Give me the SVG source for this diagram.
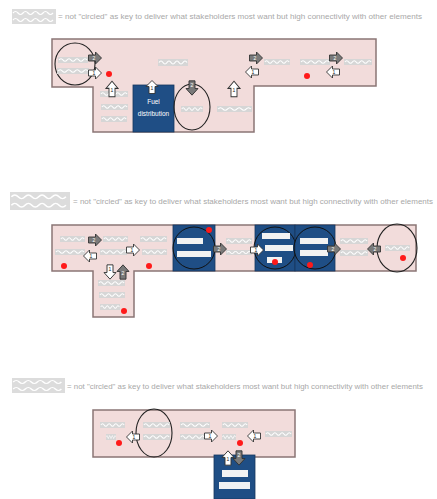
<svg xmlns="http://www.w3.org/2000/svg" xmlns:xlink="http://www.w3.org/1999/xlink" width="437" height="499" viewBox="0 0 437 499">
<style>
.leg{font-family:"Liberation Sans",Arial,sans-serif;font-size:7.2px;fill:#a8a8a8}
.zone{fill:#f2dcdb;stroke:#8a7575;stroke-width:1.5}
.blue{fill:#1f4e85;stroke:#17375e;stroke-width:0.8}
.ring{fill:none;stroke:#222;stroke-width:1.1}
.ringb{fill:none;stroke:#111;stroke-width:1}
.aw{fill:#fff;stroke:#333;stroke-width:0.9}
.ag{fill:#7a7a7a;stroke:#333;stroke-width:0.9}
.num{font-family:"Liberation Sans",Arial,sans-serif;font-size:5px;fill:#222;text-anchor:middle}
.numw{font-family:"Liberation Sans",Arial,sans-serif;font-size:5px;fill:#fff;text-anchor:middle}
.dot{fill:#ff1a1a}
.bar{fill:#f2f2f2}
.wt{font-family:"Liberation Sans",Arial,sans-serif;font-size:6.5px;fill:#fff;text-anchor:middle}
</style>
<defs>
<symbol id="sq" viewBox="0 0 30 7" preserveAspectRatio="none">
<rect x="0" y="0" width="30" height="7" fill="#d6d6d6"/>
<path d="M1,3.5 q2,-3 4,0 t4,0 t4,0 t4,0 t4,0 t4,0 t4,0" fill="none" stroke="#fff" stroke-width="1.2"/>
</symbol>
<symbol id="sw" viewBox="0 0 44 15" preserveAspectRatio="none">
<rect x="0" y="0" width="44" height="15" fill="#dcdcdc"/>
<path d="M1,4 q2.5,-3 5,0 t5,0 t5,0 t5,0 t5,0 t5,0 t5,0 t5,0 M1,11 q2.5,-3 5,0 t5,0 t5,0 t5,0 t5,0 t5,0 t5,0 t5,0" fill="none" stroke="#fff" stroke-width="1.2"/>
</symbol>
<path id="ra" d="M-6.5,-3 H0.5 V-6 L6.5,0 L0.5,6 V3 H-6.5 Z"/>
</defs>

<!-- ========== Panel 1 ========== -->
<g id="legend1">
<use xlink:href="#sw" x="12" y="9" width="44" height="15"/>
<text class="leg" x="58" y="19" textLength="364" lengthAdjust="spacingAndGlyphs">= not "circled" as key to deliver what stakeholders most want but high connectivity with other elements</text>
</g>
<g id="zone1">
<polygon class="zone" points="52,39 376,39 376,86 254,86 254,132 93,132 93,87 52,87"/>
<use xlink:href="#sq" x="158" y="59" width="30" height="7"/>
</g>
<g id="p1-circle-a">
<ellipse class="ring" cx="75" cy="64" rx="20" ry="21"/>
<use xlink:href="#sq" x="58" y="57" width="30" height="6"/>
<use xlink:href="#sq" x="57" y="68" width="32" height="6"/>
</g>
<g id="p1-node-b">
<use xlink:href="#sq" x="100" y="91" width="28" height="6"/>
<use xlink:href="#sq" x="101" y="104" width="27" height="6"/>
<use xlink:href="#sq" x="101" y="116" width="26" height="6"/>
<circle class="dot" cx="109" cy="74" r="3"/>
</g>
<g id="p1-fuel">
<rect class="blue" x="133" y="85" width="41" height="47"/>
<text class="wt" x="153.5" y="104">Fuel</text>
<text class="wt" x="153.5" y="116">distribution</text>
</g>
<g id="p1-circle-c">
<ellipse class="ring" cx="192" cy="107" rx="18" ry="23"/>
<use xlink:href="#sq" x="181" y="106" width="22" height="6"/>
</g>
<g id="p1-node-d">
<use xlink:href="#sq" x="217" y="106" width="35" height="6"/>
</g>
<g id="p1-node-e">
<use xlink:href="#sq" x="264" y="59" width="26" height="6"/>
</g>
<g id="p1-node-f">
<use xlink:href="#sq" x="300" y="59" width="30" height="6"/>
<circle class="dot" cx="307" cy="76" r="3"/>
</g>
<g id="p1-node-g">
<use xlink:href="#sq" x="344" y="59" width="28" height="6"/>
</g>
<g id="connectors1">
<use xlink:href="#ra" class="ag" transform="translate(95,58)"/><text class="numw" x="94" y="60">2</text>
<use xlink:href="#ra" class="aw" transform="translate(95,73)"/><text class="num" x="94" y="75">1</text>
<use xlink:href="#ra" class="aw" transform="translate(112,89) rotate(-90) scale(1.2,1)"/><text class="num" x="112" y="92">1</text>
<use xlink:href="#ra" class="aw" transform="translate(152,87) rotate(-90)"/><text class="num" x="152" y="90">1</text>
<use xlink:href="#ra" class="ag" transform="translate(192,88) rotate(90) scale(1.1,1)"/><text class="numw" x="192" y="87">2</text>
<use xlink:href="#ra" class="aw" transform="translate(234,89) rotate(-90) scale(1.2,1)"/><text class="num" x="234" y="92">1</text>
<use xlink:href="#ra" class="ag" transform="translate(256,58)"/><text class="numw" x="255" y="60">2</text>
<use xlink:href="#ra" class="aw" transform="translate(252,72) rotate(180)"/><text class="num" x="253" y="74">1</text>
<use xlink:href="#ra" class="ag" transform="translate(336,58)"/><text class="numw" x="335" y="60">2</text>
<use xlink:href="#ra" class="aw" transform="translate(333,72) rotate(180)"/><text class="num" x="334" y="74">1</text>
</g>

<!-- ========== Panel 2 ========== -->
<g id="legend2">
<use xlink:href="#sw" x="10" y="192" width="60" height="18"/>
<text class="leg" x="73" y="204" textLength="360" lengthAdjust="spacingAndGlyphs">= not "circled" as key to deliver what stakeholders most want but high connectivity with other elements</text>
</g>
<g id="zone2">
<polygon class="zone" points="52,225 416,225 416,271 134,271 134,317 93,317 93,271 52,271"/>
</g>
<g id="p2-node-a">
<use xlink:href="#sq" x="60" y="236" width="25" height="6"/>
<use xlink:href="#sq" x="55" y="249" width="30" height="6"/>
<circle class="dot" cx="64" cy="266" r="3"/>
</g>
<g id="p2-node-b">
<use xlink:href="#sq" x="103" y="236" width="25" height="6"/>
<use xlink:href="#sq" x="100" y="249" width="27" height="6"/>
</g>
<g id="p2-node-c">
<use xlink:href="#sq" x="140" y="236" width="27" height="6"/>
<use xlink:href="#sq" x="142" y="249" width="25" height="6"/>
<circle class="dot" cx="149" cy="266" r="3"/>
</g>
<g id="p2-node-d">
<use xlink:href="#sq" x="98" y="280" width="27" height="6"/>
<use xlink:href="#sq" x="99" y="292" width="26" height="6"/>
<use xlink:href="#sq" x="100" y="304" width="20" height="6"/>
<circle class="dot" cx="124" cy="311" r="3"/>
</g>
<g id="p2-box-a">
<rect class="blue" x="173" y="225" width="42" height="46"/>
<circle class="ringb" cx="194" cy="248" r="21"/>
<rect class="bar" x="177" y="238" width="26" height="6"/>
<rect class="bar" x="177" y="251" width="34" height="6"/>
<circle class="dot" cx="209" cy="230" r="3"/>
</g>
<g id="p2-node-e">
<use xlink:href="#sq" x="226" y="238" width="26" height="6"/>
<use xlink:href="#sq" x="226" y="250" width="26" height="5"/>
</g>
<g id="p2-box-b">
<rect class="blue" x="255" y="225" width="40" height="46"/>
<circle class="ringb" cx="275" cy="248" r="21"/>
<rect class="bar" x="262" y="233" width="28" height="6"/>
<rect class="bar" x="265" y="245" width="28" height="6"/>
<rect class="bar" x="267" y="257" width="15" height="6"/>
<circle class="dot" cx="275" cy="262" r="3"/>
</g>
<g id="p2-box-c">
<rect class="blue" x="295" y="225" width="40" height="46"/>
<circle class="ringb" cx="315" cy="248" r="21"/>
<rect class="bar" x="300" y="238" width="28" height="6"/>
<rect class="bar" x="300" y="250" width="28" height="6"/>
<circle class="dot" cx="310" cy="265" r="3"/>
</g>
<g id="p2-node-f">
<use xlink:href="#sq" x="340" y="238" width="28" height="6"/>
<use xlink:href="#sq" x="340" y="250" width="28" height="6"/>
</g>
<g id="p2-circle-g">
<ellipse class="ring" cx="397" cy="248" rx="20" ry="24"/>
<use xlink:href="#sq" x="385" y="245" width="25" height="6"/>
<circle class="dot" cx="403" cy="258" r="3"/>
</g>
<g id="connectors2">
<use xlink:href="#ra" class="ag" transform="translate(95,240)"/><text class="numw" x="94" y="242">2</text>
<use xlink:href="#ra" class="aw" transform="translate(90,256) rotate(180)"/><text class="num" x="91" y="258">1</text>
<use xlink:href="#ra" class="aw" transform="translate(133,250)"/><text class="num" x="132" y="252">1</text>
<use xlink:href="#ra" class="aw" transform="translate(110,272) rotate(90) scale(1.1,1)"/><text class="num" x="110" y="271">1</text>
<use xlink:href="#ra" class="ag" transform="translate(123,272) rotate(-90) scale(1.1,1)"/><text class="numw" x="123" y="275">2</text>
<use xlink:href="#ra" class="ag" transform="translate(220,249)"/><text class="numw" x="219" y="251">2</text>
<use xlink:href="#ra" class="aw" transform="translate(257,250)"/><text class="num" x="256" y="252">1</text>
<use xlink:href="#ra" class="ag" transform="translate(334,249)"/><text class="numw" x="333" y="251">2</text>
<use xlink:href="#ra" class="ag" transform="translate(374,249) rotate(180)"/><text class="numw" x="375" y="251">2</text>
</g>

<!-- ========== Panel 3 ========== -->
<g id="legend3">
<use xlink:href="#sw" x="12" y="378" width="53" height="15"/>
<text class="leg" x="67" y="389" textLength="356" lengthAdjust="spacingAndGlyphs">= not "circled" as key to deliver what stakeholders most want but high connectivity with other elements</text>
</g>
<g id="zone3">
<rect class="zone" x="93" y="410" width="202" height="47"/>
</g>
<g id="p3-node-a">
<use xlink:href="#sq" x="100" y="422" width="25" height="6"/>
<use xlink:href="#sq" x="106" y="434" width="10" height="6"/>
<circle class="dot" cx="119" cy="443" r="3"/>
</g>
<g id="p3-circle-b">
<ellipse class="ring" cx="154" cy="433" rx="18" ry="24"/>
<use xlink:href="#sq" x="143" y="422" width="27" height="6"/>
<use xlink:href="#sq" x="143" y="434" width="27" height="6"/>
</g>
<g id="p3-node-c">
<use xlink:href="#sq" x="180" y="422" width="30" height="6"/>
<use xlink:href="#sq" x="180" y="434" width="25" height="6"/>
</g>
<g id="p3-node-d">
<use xlink:href="#sq" x="222" y="422" width="26" height="6"/>
<use xlink:href="#sq" x="222" y="434" width="14" height="6"/>
<circle class="dot" cx="240" cy="443" r="3"/>
</g>
<g id="p3-node-e">
<use xlink:href="#sq" x="265" y="431" width="27" height="6"/>
</g>
<g id="p3-box">
<rect class="blue" x="214" y="455" width="41" height="44"/>
<rect class="bar" x="222" y="470" width="26" height="7"/>
<rect class="bar" x="219" y="482" width="31" height="7"/>
</g>
<g id="connectors3">
<use xlink:href="#ra" class="aw" transform="translate(133,437) rotate(180)"/><text class="num" x="134" y="439">1</text>
<use xlink:href="#ra" class="aw" transform="translate(211,436)"/><text class="num" x="210" y="438">1</text>
<use xlink:href="#ra" class="aw" transform="translate(254,436) rotate(180)"/><text class="num" x="255" y="438">1</text>
<use xlink:href="#ra" class="aw" transform="translate(228,458) rotate(-90) scale(1.1,1)"/><text class="num" x="228" y="461">1</text>
<use xlink:href="#ra" class="ag" transform="translate(239,458) rotate(90) scale(1.1,1)"/><text class="numw" x="239" y="457">2</text>
</g>
</svg>
